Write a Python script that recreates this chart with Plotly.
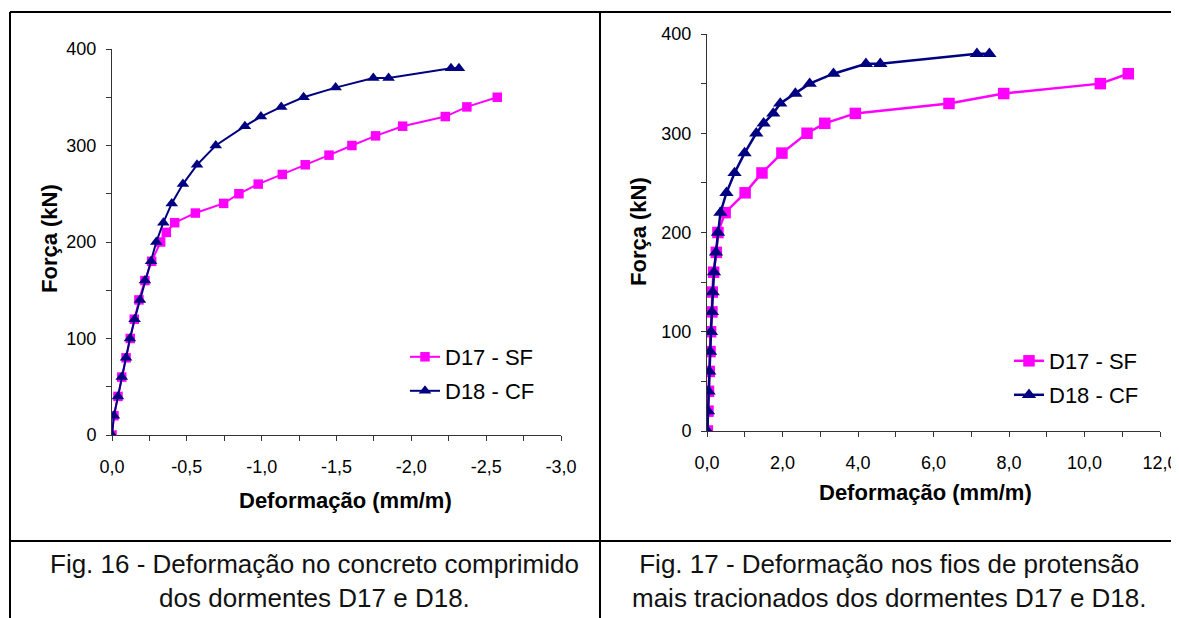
import plotly.graph_objects as go

W, H = 1179, 618
OFF = 8  # page body margin of the browser

# ---------------- data ----------------
force = [0, 20, 40, 60, 80, 100, 120, 140, 160, 180, 200]

# Fig. 16 (compressed concrete) - strain in mm/m (negative)
f16_d17_force = force + [210, 220, 230, 240, 250, 260, 270, 280, 290, 300, 310, 320, 330, 340, 350]
f16_d17_strain = [0.0, -0.013, -0.040, -0.065, -0.094, -0.122, -0.149, -0.180, -0.220, -0.265, -0.325,
                  -0.363, -0.419, -0.557, -0.746, -0.848, -0.977, -1.138, -1.291, -1.450, -1.603,
                  -1.761, -1.942, -2.227, -2.371, -2.574]
f16_d18_force = force + [220, 240, 260, 280, 300, 320, 330, 340, 350, 360, 370, 370, 380, 380]
f16_d18_strain = [0.0, -0.013, -0.040, -0.065, -0.094, -0.120, -0.151, -0.187, -0.220, -0.261, -0.296,
                  -0.343, -0.399, -0.474, -0.568, -0.693, -0.888, -0.995, -1.131, -1.280, -1.494,
                  -1.746, -1.848, -2.265, -2.318]

# Fig. 17 (prestressing wires) - strain in mm/m
f17_d17_force = force + [220, 240, 260, 280, 300, 310, 320, 330, 340, 350, 360]
f17_d17_strain = [0.01, 0.026, 0.04, 0.06, 0.08, 0.095, 0.13, 0.14, 0.175, 0.246, 0.29,
                  0.48, 1.01, 1.456, 1.985, 2.65, 3.12, 3.93, 6.41, 7.86, 10.42, 11.16]
f17_d18_force = force + [220, 240, 260, 280, 300, 310, 320, 330, 340, 350, 360, 370, 370, 380, 380]
f17_d18_strain = [0.01, 0.026, 0.04, 0.06, 0.08, 0.106, 0.13, 0.15, 0.185, 0.238, 0.29,
                  0.355, 0.515, 0.73, 0.995, 1.305, 1.50, 1.755, 1.94, 2.34, 2.72, 3.35,
                  4.21, 4.59, 7.15, 7.48]

names = ["D17 - SF", "D18 - CF"]

x16_ticks = [0, -0.5, -1.0, -1.5, -2.0, -2.5, -3.0]
x16_labels = ["0,0", "-0,5", "-1,0", "-1,5", "-2,0", "-2,5", "-3,0"]
x17_ticks = [0, 2, 4, 6, 8, 10, 12]
x17_labels = ["0,0", "2,0", "4,0", "6,0", "8,0", "10,0", "12,0"]
y_ticks = [0, 100, 200, 300, 400]

caption16 = "Fig. 16 - Deformação no concreto comprimido<br>dos dormentes D17 e D18."
caption17 = "Fig. 17 - Deformação nos fios de protensão<br>mais tracionados dos dormentes D17 e D18."
xtitle = "Deformação (mm/m)"
ytitle = "Força (kN)"

# ---------------- styling ----------------
MAG = "#FF00FF"
NAVY = "#000080"
FONT = "Liberation Sans, Arial, sans-serif"
AX = "#333333"


def px(x):
    return (x - OFF) / W


def py(y):
    return 1 - (y - OFF) / H


fig = go.Figure()

fig.add_trace(go.Scatter(x=f16_d17_strain, y=f16_d17_force, name=names[0], mode="lines+markers",
                         line=dict(color=MAG, width=2), marker=dict(symbol="square", size=9.5, color=MAG),
                         xaxis="x", yaxis="y", legend="legend"))
fig.add_trace(go.Scatter(x=f16_d18_strain, y=f16_d18_force, name=names[1], mode="lines+markers",
                         line=dict(color=NAVY, width=2), marker=dict(symbol="triangle-up", size=11, color=NAVY),
                         xaxis="x", yaxis="y", legend="legend2"))
fig.add_trace(go.Scatter(x=f17_d17_strain, y=f17_d17_force, name=names[0], mode="lines+markers",
                         line=dict(color=MAG, width=2.5), marker=dict(symbol="square", size=11.5, color=MAG),
                         xaxis="x2", yaxis="y2", legend="legend3"))
fig.add_trace(go.Scatter(x=f17_d18_strain, y=f17_d18_force, name=names[1], mode="lines+markers",
                         line=dict(color=NAVY, width=2.5), marker=dict(symbol="triangle-up", size=12.5, color=NAVY),
                         xaxis="x2", yaxis="y2", legend="legend4"))

axis_common = dict(showline=True, linecolor=AX, linewidth=1, showgrid=False, zeroline=False,
                   automargin=False,
                   ticks="outside", ticklen=5, tickcolor=AX, tickwidth=1,
                   tickfont=dict(family=FONT, size=18, color="#000"))

fig.update_layout(
    width=W, height=H,
    margin=dict(l=0, r=0, t=0, b=0, pad=0, autoexpand=False),
    paper_bgcolor="white", plot_bgcolor="white",
    showlegend=True,
    xaxis=dict(domain=[px(112), px(561)], range=[0, -3.0], anchor="y",
               tickvals=x16_ticks, ticktext=x16_labels, ticklabelstandoff=10,
               minor=dict(dtick=0.25, ticks="outside", ticklen=5, tickcolor=AX), **axis_common),
    yaxis=dict(domain=[py(435), py(49)], range=[0, 400], anchor="x",
               tickvals=y_ticks, ticklabelstandoff=6,
               minor=dict(dtick=50, ticks="outside", ticklen=5, tickcolor=AX), **axis_common),
    xaxis2=dict(domain=[px(707), px(1160)], range=[0, 12], anchor="y2",
                tickvals=x17_ticks, ticktext=x17_labels, ticklabelstandoff=10,
                minor=dict(dtick=1, ticks="outside", ticklen=5, tickcolor=AX), **axis_common),
    yaxis2=dict(domain=[py(431), py(34)], range=[0, 400], anchor="x2",
                tickvals=y_ticks, ticklabelstandoff=6,
                minor=dict(dtick=50, ticks="outside", ticklen=5, tickcolor=AX), **axis_common),
)

leg = dict(font=dict(family=FONT, size=22, color="#000"), bgcolor="rgba(0,0,0,0)",
           xanchor="left", yanchor="middle", borderwidth=0)
fig.update_layout(
    legend=dict(x=px(405), y=py(357), **leg),
    legend2=dict(x=px(405), y=py(391), **leg),
    legend3=dict(x=px(1009), y=py(361), **leg),
    legend4=dict(x=px(1009), y=py(395), **leg),
)

ann = []
title_font = dict(family=FONT, size=22, color="#000")
ann.append(dict(text="<b>" + xtitle + "</b>", x=px(345), y=py(500), xref="paper", yref="paper",
                showarrow=False, font=title_font, xanchor="center", yanchor="middle"))
ann.append(dict(text="<b>" + xtitle + "</b>", x=px(925), y=py(493), xref="paper", yref="paper",
                showarrow=False, font=title_font, xanchor="center", yanchor="middle"))
ann.append(dict(text="<b>" + ytitle + "</b>", x=px(49), y=py(239), xref="paper", yref="paper",
                showarrow=False, font=title_font, textangle=-90, xanchor="center", yanchor="middle"))
ann.append(dict(text="<b>" + ytitle + "</b>", x=px(638), y=py(232), xref="paper", yref="paper",
                showarrow=False, font=title_font, textangle=-90, xanchor="center", yanchor="middle"))
cap_font = dict(family=FONT, size=26, color="#111")
ann.append(dict(text=caption16, x=px(314), y=py(581), xref="paper", yref="paper",
                showarrow=False, font=cap_font, xanchor="center", yanchor="middle", align="center"))
ann.append(dict(text=caption17, x=px(889), y=py(581), xref="paper", yref="paper",
                showarrow=False, font=cap_font, xanchor="center", yanchor="middle", align="center"))
fig.update_layout(annotations=ann)

line = dict(color="black", width=2)
shapes = [
    dict(type="line", xref="paper", yref="paper", x0=px(10), x1=1, y0=py(12), y1=py(12), line=line),
    dict(type="line", xref="paper", yref="paper", x0=px(10), x1=px(10), y0=py(12), y1=0, line=line),
    dict(type="line", xref="paper", yref="paper", x0=px(600), x1=px(600), y0=py(12), y1=0, line=line),
    dict(type="line", xref="paper", yref="paper", x0=px(10), x1=1, y0=py(541), y1=py(541), line=line),
]
fig.update_layout(shapes=shapes)

fig.write_html("out.html")
